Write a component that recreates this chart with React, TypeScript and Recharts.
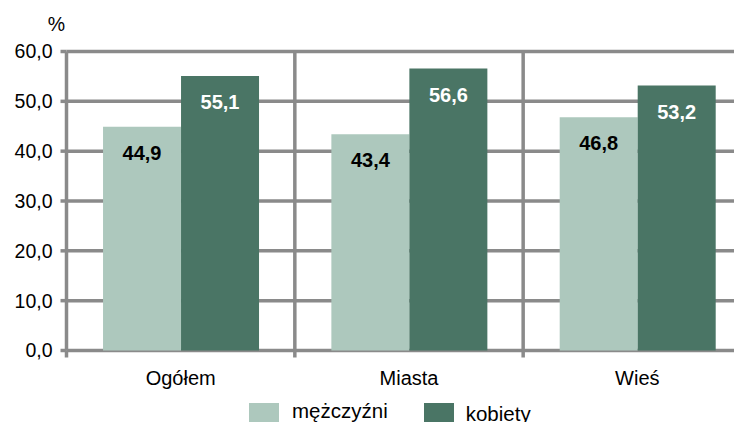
import React from "react";
import {
  BarChart,
  Bar,
  XAxis,
  YAxis,
  CartesianGrid,
  Legend,
  LabelList,
  ReferenceLine,
} from "recharts";

const categories = ["Ogółem", "Miasta", "Wieś"];
const men = [44.9, 43.4, 46.8];
const women = [55.1, 56.6, 53.2];
const yTicks = [0, 10, 20, 30, 40, 50, 60];

const lightColour = "#adc8bd";
const darkColour = "#4a7565";
const gridColour = "#8a8a8a";
const lineWidth = 3.5;
const font = "'Liberation Sans', Arial, sans-serif";

const data = categories.map((name, i) => ({
  name,
  men: men[i],
  women: women[i],
}));

const fmt = (v: number | string) => Number(v).toFixed(1).replace(".", ",");

function LegendContent({ payload }: any) {
  return (
    <div style={{ display: "flex", alignItems: "flex-start", fontFamily: font }}>
      {(payload || []).map((entry: any, i: number) => (
        <div
          key={entry.value}
          style={{ display: "flex", alignItems: "flex-start", marginRight: i === 0 ? 36 : 0 }}
        >
          <div style={{ width: 30, height: 24, background: entry.color }} />
          <span
            style={{
              fontSize: 20.5,
              color: "#000",
              marginLeft: i === 0 ? 13 : 12,
              lineHeight: "20px",
              marginTop: i === 0 ? -2 : 1,
            }}
          >
            {entry.value}
          </span>
        </div>
      ))}
    </div>
  );
}

// category label plus a small boundary tick at the left edge of each band
function CategoryTick({ x, y, payload }: any) {
  const half = payload.offset || 0;
  const axisY = y - 20;
  return (
    <g>
      <line
        x1={x - half}
        x2={x - half}
        y1={axisY}
        y2={axisY + 7}
        stroke={gridColour}
        strokeWidth={lineWidth}
      />
      <text x={x} y={y} dy="0.71em" textAnchor="middle" fill="#000" fontSize={20}>
        {payload.value}
      </text>
    </g>
  );
}

// value label plus a short tick to the left of the axis
function ValueTick({ x, y, payload }: any) {
  return (
    <g>
      <line
        x1={x + 8}
        x2={x + 14}
        y1={y}
        y2={y}
        stroke={gridColour}
        strokeWidth={lineWidth}
      />
      <text x={x} y={y} dy="0.355em" textAnchor="end" fill="#000" fontSize={19.5}>
        {fmt(payload.value)}
      </text>
    </g>
  );
}

export default function App(): JSX.Element {
  return (
    <div
      style={{
        margin: -8,
        width: 742,
        height: 430,
        overflow: "hidden",
        fontFamily: font,
        background: "#fff",
      }}
    >
      <BarChart
        width={760}
        height={430}
        data={data}
        margin={{ top: 51.5, right: 8.5, left: 6.5, bottom: 4.5 }}
        barCategoryGap="16%"
        barGap={0}
      >
        <CartesianGrid
          vertical={false}
          stroke={gridColour}
          strokeWidth={lineWidth}
        />
        <XAxis
          dataKey="name"
          height={45}
          axisLine={false}
          tickLine={false}
          tickMargin={14}
          tick={<CategoryTick />}
        />
        <YAxis
          domain={[0, 60]}
          ticks={yTicks}
          width={60}
          axisLine={false}
          tickLine={false}
          tickSize={0}
          tickMargin={14}
          tick={<ValueTick />}
          label={{ value: "%", position: "top", offset: 21, dx: 20, fill: "#000", fontSize: 19.5 }}
        />
        {categories.map((c) => (
          <ReferenceLine
            key={"v" + c}
            x={c}
            position="start"
            stroke={gridColour}
            strokeWidth={lineWidth}
          />
        ))}
        <Legend
          verticalAlign="bottom"
          itemSorter="dataKey"
          content={<LegendContent />}
          wrapperStyle={{ top: 403, left: 249, width: 400, height: 30, bottom: "auto" }}
        />
        <Bar dataKey="men" name="mężczyźni" fill={lightColour} isAnimationActive={false}>
          <LabelList
            dataKey="men"
            position="insideTop"
            offset={19}
            formatter={fmt}
            fill="#000"
            fontSize={20}
            fontWeight="bold"
          />
        </Bar>
        <Bar dataKey="women" name="kobiety" fill={darkColour} isAnimationActive={false}>
          <LabelList
            dataKey="women"
            position="insideTop"
            offset={19}
            formatter={fmt}
            fill="#fff"
            fontSize={20}
            fontWeight="bold"
          />
        </Bar>
      </BarChart>
    </div>
  );
}
